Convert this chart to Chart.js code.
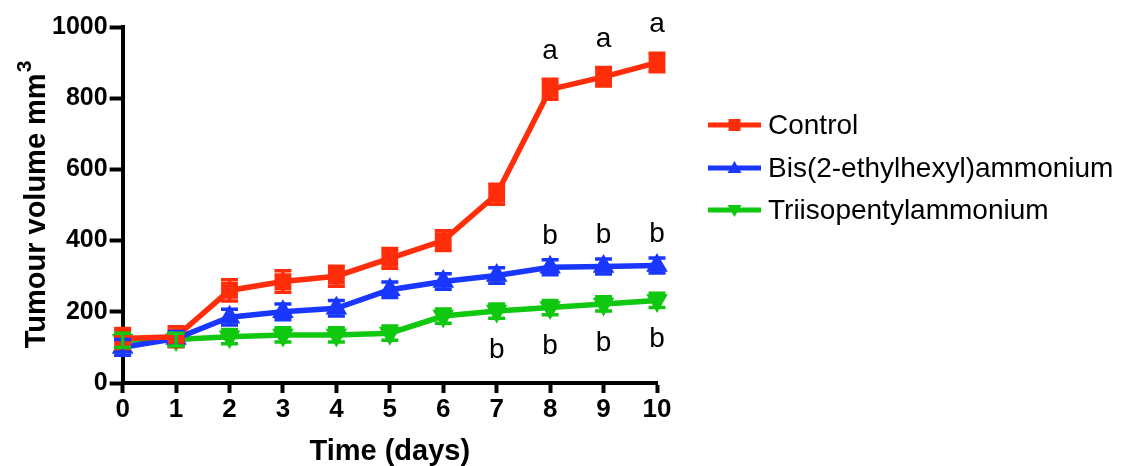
<!DOCTYPE html>
<html>
<head>
<meta charset="utf-8">
<script src="https://cdn.jsdelivr.net/npm/chart.js@4.4.1/dist/chart.umd.min.js"></script>
<style>
  html, body { margin: 0; padding: 0; background: #fff; }
  #wrap { width: 1126px; height: 466px; position: relative; }
</style>
</head>
<body>
<div id="wrap"><canvas id="c" width="1126" height="466"></canvas></div>
<script>
// Tumour volume (mm³) by day, mean ± error
const days = [0, 1, 2, 3, 4, 5, 6, 7, 8, 9, 10];
const controlVol = [125, 130, 260, 285, 300, 350, 400, 530, 825, 860, 900];
const controlErr = [28, 28, 30, 30, 28, 28, 28, 28, 28, 26, 26];
const bisVol = [100, 125, 185, 200, 210, 262, 285, 302, 325, 327, 330];
const bisErr = [22, 20, 22, 22, 22, 22, 22, 22, 21, 21, 21];
const triVol = [120, 122, 130, 135, 135, 140, 188, 202, 212, 222, 232];
const triErr = [20, 18, 20, 20, 20, 20, 20, 20, 20, 20, 20];

const yTicks = [0, 200, 400, 600, 800, 1000];

// Significance letters: which days carry a letter for each series
const sigControlDays = [8, 9, 10];
const sigBisDays = [8, 9, 10];
const sigTriDays = [7, 8, 9, 10];

const RED = 'rgb(255,45,10)';
const BLUE = 'rgb(25,55,255)';
const GREEN = 'rgb(15,200,15)';
const FONT = '"Liberation Sans", Arial, sans-serif';

function pts(vals) { return days.map((d, i) => ({ x: d, y: vals[i] })); }

const errorBars = {
  id: 'errorBars',
  afterDatasetsDraw(chart) {
    const { ctx } = chart;
    const ys = chart.scales.y;
    chart.data.datasets.forEach((ds, di) => {
      const meta = chart.getDatasetMeta(di);
      ctx.save();
      ctx.strokeStyle = ds.borderColor;
      ctx.lineWidth = 3.5;
      meta.data.forEach((p, i) => {
        const v = ds.data[i].y, e = ds.errors[i];
        const top = ys.getPixelForValue(v + e), bot = ys.getPixelForValue(v - e);
        const hw = 8.5;
        ctx.beginPath();
        ctx.moveTo(p.x, top); ctx.lineTo(p.x, bot);
        ctx.moveTo(p.x - hw, top); ctx.lineTo(p.x + hw, top);
        ctx.moveTo(p.x - hw, bot); ctx.lineTo(p.x + hw, bot);
        ctx.stroke();
      });
      ctx.restore();
    });
  }
};

const sigLetters = {
  id: 'sigLetters',
  afterDraw(chart) {
    const { ctx } = chart;
    const xs = chart.scales.x, ys = chart.scales.y;
    ctx.save();
    ctx.fillStyle = '#000';
    ctx.font = '28px ' + FONT;
    ctx.textAlign = 'center';
    ctx.textBaseline = 'middle';
    const put = (dayList, vals, letter, dy) => {
      dayList.forEach(d => {
        const i = days.indexOf(d);
        ctx.fillText(letter, xs.getPixelForValue(d), ys.getPixelForValue(vals[i]) + dy);
      });
    };
    put(sigControlDays, controlVol, 'a', -38);
    put(sigBisDays, bisVol, 'b', -31);
    put(sigTriDays, triVol, 'b', 39);
    ctx.restore();
  }
};

const sideLegend = {
  id: 'sideLegend',
  afterDraw(chart) {
    const { ctx } = chart;
    ctx.save();
    const x0 = 708, x1 = 761, tx = 768;
    const rows = [125, 168, 210];
    chart.data.datasets.forEach((ds, i) => {
      const y = rows[i];
      ctx.strokeStyle = ds.borderColor;
      ctx.lineWidth = 5;
      ctx.beginPath(); ctx.moveTo(x0, y); ctx.lineTo(x1, y); ctx.stroke();
      ctx.fillStyle = ds.borderColor;
      const cx = (x0 + x1) / 2;
      ctx.beginPath();
      if (ds.pointStyle === 'rect') {
        ctx.rect(cx - 6, y - 6, 12, 12);
      } else if (ds.pointRotation === 180) {
        ctx.moveTo(cx - 7, y - 5); ctx.lineTo(cx + 7, y - 5); ctx.lineTo(cx, y + 7);
      } else {
        ctx.moveTo(cx - 7, y + 5); ctx.lineTo(cx + 7, y + 5); ctx.lineTo(cx, y - 7);
      }
      ctx.fill();
      ctx.fillStyle = '#000';
      ctx.font = '28px ' + FONT;
      ctx.textBaseline = 'middle';
      ctx.fillText(ds.label, tx, y + 1);
    });
    ctx.restore();
  }
};

// Y axis title with a raised "3"
const yTitle = {
  id: 'yTitle',
  afterDraw(chart) {
    const { ctx } = chart;
    ctx.save();
    const cy = 205, cx = 37;
    ctx.translate(cx, cy);
    ctx.rotate(-Math.PI / 2);
    ctx.fillStyle = '#000';
    ctx.textBaseline = 'middle';
    const main = 'Tumour volume mm';
    ctx.font = 'bold 29px ' + FONT;
    const w1 = ctx.measureText(main).width;
    ctx.font = 'bold 21px ' + FONT;
    const w2 = ctx.measureText('3').width;
    const start = -(w1 + w2) / 2;
    ctx.font = 'bold 29px ' + FONT;
    ctx.textAlign = 'left';
    ctx.fillText(main, start, 0);
    ctx.font = 'bold 21px ' + FONT;
    ctx.fillText('3', start + w1 + 1, -12);
    ctx.restore();
  }
};

const common = { borderWidth: 5.5, pointHoverRadius: 7, tension: 0, fill: false, clip: false };

new Chart(document.getElementById('c'), {
  type: 'line',
  data: {
    datasets: [
      { ...common, label: 'Control', data: pts(controlVol), errors: controlErr,
        borderColor: RED, backgroundColor: RED, pointStyle: 'rect', pointRadius: 8 },
      { ...common, label: 'Bis(2-ethylhexyl)ammonium', data: pts(bisVol), errors: bisErr,
        borderColor: BLUE, backgroundColor: BLUE, pointStyle: 'triangle', pointRotation: 0, pointRadius: 7 },
      { ...common, label: 'Triisopentylammonium', data: pts(triVol), errors: triErr,
        borderColor: GREEN, backgroundColor: GREEN, pointStyle: 'triangle', pointRotation: 180, pointRadius: 7 }
    ]
  },
  options: {
    responsive: false,
    animation: false,
    layout: { padding: { left: 50, right: 469, top: 27, bottom: 0 } },
    plugins: { legend: { display: false }, tooltip: { enabled: false } },
    scales: {
      x: {
        type: 'linear', min: 0, max: 10,
        border: { color: '#000', width: 4 },
        grid: { drawOnChartArea: false, color: '#000', tickLength: 10, tickWidth: 4 },
        ticks: { stepSize: 1, color: '#000', padding: 4,
                 font: { family: FONT, size: 26, weight: 'bold', lineHeight: 1 } },
        title: { display: true, text: 'Time (days)', color: '#000', padding: { top: 10, bottom: 0 },
                 font: { family: FONT, size: 29, weight: 'bold', lineHeight: 1 } }
      },
      y: {
        min: 0, max: 1000,
        afterBuildTicks(axis) { axis.ticks = yTicks.map(v => ({ value: v })); },
        border: { color: '#000', width: 4 },
        grid: { drawOnChartArea: false, color: '#000', tickLength: 13, tickWidth: 4 },
        ticks: { color: '#000', padding: 2, callback: v => String(v),
                 font: { family: FONT, size: 25, weight: 'bold' } }
      }
    }
  },
  plugins: [errorBars, sigLetters, sideLegend, yTitle]
});
</script>
</body>
</html>
